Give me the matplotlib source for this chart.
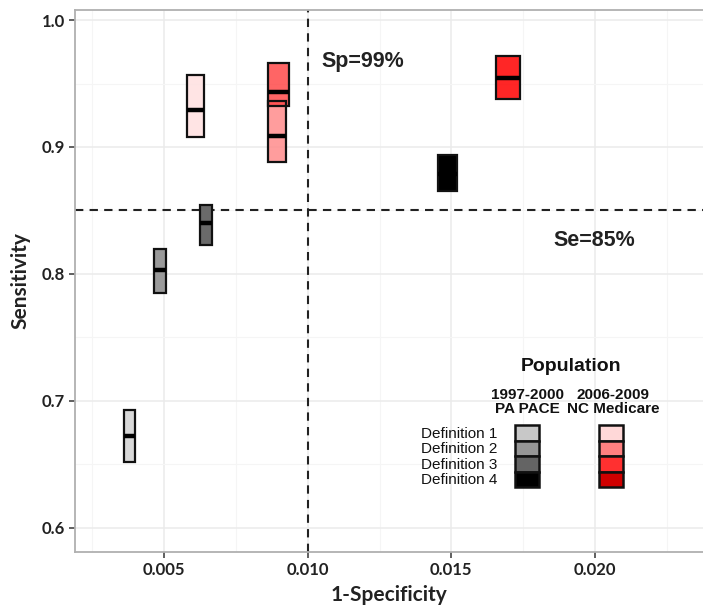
import matplotlib
matplotlib.use("Agg")
import matplotlib.pyplot as plt
from matplotlib.patches import Rectangle
from matplotlib.ticker import MultipleLocator

# ---- data ----
definitions = ["Definition 1", "Definition 2", "Definition 3", "Definition 4"]
populations = ["1997-2000\nPA PACE", "2006-2009\nNC Medicare"]
x_ticks = [0.005, 0.010, 0.015, 0.020]
x_tick_labels = ["0.005", "0.010", "0.015", "0.020"]
y_ticks = [0.6, 0.7, 0.8, 0.9, 1.0]
y_tick_labels = ["0.6", "0.7", "0.8", "0.9", "1.0"]

pa_x = [0.0038, 0.00485, 0.00646, 0.01487]
pa_xw = [0.00038, 0.00042, 0.00042, 0.00066]
pa_lo = [0.652, 0.785, 0.823, 0.865]
pa_mid = [0.672, 0.803, 0.840, 0.879]
pa_hi = [0.693, 0.820, 0.854, 0.894]

nc_x = [0.0061, 0.00892, 0.0090, 0.01696]
nc_xw = [0.00059, 0.00063, 0.00073, 0.00084]
nc_lo = [0.908, 0.888, 0.932, 0.938]
nc_mid = [0.929, 0.909, 0.943, 0.954]
nc_hi = [0.957, 0.936, 0.966, 0.972]

pa_colors = ["#d8d8d8", "#9a9a9a", "#6a6a6a", "#000000"]
nc_colors = ["#ffe0e0", "#ff8c8c", "#ff4a4a", "#ff0000"]
pa_leg = ["#c8c8c8", "#969696", "#646464", "#000000"]
nc_leg = ["#ffd8d8", "#ff8080", "#ff3030", "#d00000"]

sp_line = 0.010
se_line = 0.85

TICKFONT = ["Lato", "DejaVu Sans"]
ARIAL = ["Liberation Sans", "DejaVu Sans"]

fig = plt.figure(figsize=(7.03, 6.10), dpi=100)
ax = fig.add_axes([75 / 703, 58 / 610, 628 / 703, 542 / 610])

ax.set_xlim(0.0019, 0.02376)
ax.set_ylim(0.581, 1.0079)
ax.xaxis.set_minor_locator(MultipleLocator(0.0025))
ax.yaxis.set_minor_locator(MultipleLocator(0.05))
ax.grid(which="major", color="#ebebeb", linewidth=1.1, zorder=0)
ax.grid(which="minor", color="#f5f5f5", linewidth=0.8, zorder=0)
ax.tick_params(which="minor", length=0)
ax.tick_params(which="major", length=4, width=1.2, color="#444444",
               labelcolor="#222222", pad=3)
ax.set_xticks(x_ticks)
ax.set_xticklabels(x_tick_labels, fontweight="bold", family=TICKFONT, fontsize=12)
ax.set_yticks(y_ticks)
ax.set_yticklabels(y_tick_labels, fontweight="bold", family=TICKFONT, fontsize=12)
for s in ax.spines.values():
    s.set_color("#b0b0b0")
    s.set_linewidth(1.3)
ax.spines["right"].set_visible(False)

ax.set_xlabel("1-Specificity", fontsize=15, fontweight="bold", family=TICKFONT,
              color="#222222", labelpad=5)
ax.set_ylabel("Sensitivity", fontsize=15, fontweight="bold", family=TICKFONT,
              color="#222222", labelpad=8)

# reference lines
ax.axvline(sp_line, color="#222222", linestyle=(0, (4, 3)), linewidth=1.5, zorder=2)
ax.axhline(se_line, color="#222222", linestyle=(0, (4, 3)), linewidth=1.5, zorder=2)
ax.text(0.01049, 0.967, "Sp=99%", fontsize=15.5, fontweight="bold", family=ARIAL,
        color="#222222", va="center", ha="left")
ax.text(0.01856, 0.826, "Se=85%", fontsize=15.5, fontweight="bold", family=ARIAL,
        color="#222222", va="center", ha="left")

def crossbars(xs, ws, lo, mid, hi, colors, alpha):
    for x, w, l, m, h, c in zip(xs, ws, lo, mid, hi, colors):
        ax.bar(x, h - l, bottom=l, width=w, color=c, alpha=alpha,
               edgecolor="none", zorder=3)
        ax.bar(x, h - l, bottom=l, width=w, color="none",
               edgecolor="#111111", linewidth=1.6, zorder=4)
        ax.hlines(m, x - w / 2, x + w / 2, color="#000000", linewidth=3.2, zorder=5)

crossbars(pa_x, pa_xw, pa_lo, pa_mid, pa_hi, pa_colors, 1.0)
crossbars(nc_x, nc_xw, nc_lo, nc_mid, nc_hi, nc_colors, 0.85)

# legend (manual)
T = ax.transAxes
ax.text(0.790, 0.343, "Population", transform=T, fontsize=14, fontweight="bold",
        family=ARIAL, ha="center", va="center", color="#111111")
col_x = [0.7197, 0.8535]
head_x = [0.720, 0.857]
for hx, lab in zip(head_x, populations):
    ax.text(hx, 0.277, lab, transform=T, fontsize=11, fontweight="bold",
            family=ARIAL, ha="center", va="center", color="#111111", linespacing=1.0)
sw_w, sw_h = 0.0382, 0.0286
row_y = [0.2200, 0.1914, 0.1628, 0.1342]
for i, (d, y) in enumerate(zip(definitions, row_y)):
    ax.text(0.672, y - 0.002, d, transform=T, fontsize=11, family=ARIAL,
            ha="right", va="center", color="#111111")
    for cx, cols in zip(col_x, [pa_leg, nc_leg]):
        ax.add_patch(Rectangle((cx - sw_w / 2, y - sw_h / 2), sw_w, sw_h,
                               transform=T, facecolor=cols[i], edgecolor="#111111",
                               linewidth=1.8, zorder=6, clip_on=False))

fig.savefig("out.png", dpi=100)
